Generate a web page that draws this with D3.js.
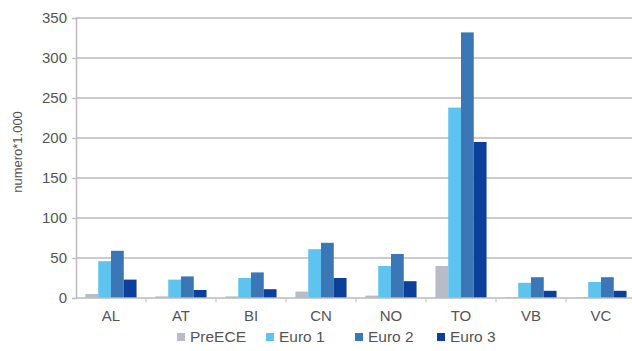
<!DOCTYPE html>
<html>
<head>
<meta charset="utf-8">
<script src="https://cdn.jsdelivr.net/npm/d3@7"></script>
<style>
  html, body { margin: 0; padding: 0; background: #fff; }
  svg { display: block; }
  text { font-family: "Liberation Sans", Arial, sans-serif; fill: #555; }
</style>
</head>
<body>
<svg id="chart" width="632" height="351"></svg>
<script>
// Vehicle counts (thousands) by province and emission standard
const provinces = ["AL", "AT", "BI", "CN", "NO", "TO", "VB", "VC"];
const seriesNames = ["PreECE", "Euro 1", "Euro 2", "Euro 3"];
const preECE = [5, 2, 2, 8, 3, 40, 1, 1];
const euro1  = [46, 23, 25, 61, 40, 238, 19, 20];
const euro2  = [59, 27, 32, 69, 55, 332, 26, 26];
const euro3  = [23, 10, 11, 25, 21, 195, 9, 9];
const yTicks = [0, 50, 100, 150, 200, 250, 300, 350];
const colors = ["#b8bcc6", "#5ec3ef", "#3b77b7", "#0c3f9a"];

const seriesValues = [preECE, euro1, euro2, euro3];
const rows = provinces.map((p, i) => ({
  province: p,
  values: seriesNames.map((s, k) => ({ series: s, value: seriesValues[k][i] }))
}));

const svg = d3.select("#chart");
const margin = { left: 76, right: -4, top: 18, bottom: 53 };
const width = 632, height = 351;
const plotBottom = height - margin.bottom;

const x0 = d3.scaleBand()
  .domain(provinces)
  .range([margin.left, width - margin.right])
  .paddingInner(0).paddingOuter(0);

const x1 = d3.scaleBand()
  .domain(seriesNames)
  .range([x0.bandwidth() * 0.135, x0.bandwidth() * 0.865])
  .padding(0);

const y = d3.scaleLinear()
  .domain([0, 350])
  .range([plotBottom, margin.top]);

// Horizontal grid lines
svg.append("g")
  .selectAll("line")
  .data(yTicks.filter(t => t > 0))
  .join("line")
  .attr("x1", margin.left)
  .attr("x2", width)
  .attr("y1", d => y(d))
  .attr("y2", d => y(d))
  .attr("stroke", "#cccccc")
  .attr("stroke-width", 2);

// Bars
const groups = svg.append("g")
  .selectAll("g")
  .data(rows)
  .join("g")
  .attr("transform", d => `translate(${x0(d.province)},0)`);

groups.selectAll("rect")
  .data(d => d.values)
  .join("rect")
  .attr("x", d => x1(d.series))
  .attr("width", x1.bandwidth())
  .attr("y", d => y(d.value))
  .attr("height", d => plotBottom - y(d.value))
  .attr("fill", (d, i) => colors[i]);

// Y axis
const yAxis = svg.append("g")
  .attr("transform", `translate(${margin.left},0)`)
  .call(d3.axisLeft(y).tickValues(yTicks).tickSize(4).tickPadding(5));
yAxis.select(".domain").attr("stroke", "#bbbbbb").attr("stroke-width", 1.5);
yAxis.selectAll(".tick line").attr("stroke", "#bbbbbb");
yAxis.selectAll(".tick text")
  .attr("font-size", 15)
  .style("font-family", "'Liberation Sans', Arial, sans-serif")
  .attr("fill", "#555");

// X axis: ticks at category boundaries
const xAxisG = svg.append("g").attr("transform", `translate(0,${plotBottom})`);
xAxisG.append("line")
  .attr("x1", margin.left).attr("x2", width)
  .attr("y1", 0).attr("y2", 0)
  .attr("stroke", "#bbbbbb").attr("stroke-width", 1.5);
xAxisG.selectAll("line.tick")
  .data(provinces.slice(1))
  .join("line")
  .attr("class", "tick")
  .attr("x1", d => x0(d)).attr("x2", d => x0(d))
  .attr("y1", 0).attr("y2", 4)
  .attr("stroke", "#bbbbbb");
xAxisG.selectAll("text")
  .data(provinces)
  .join("text")
  .attr("x", d => x0(d) + x0.bandwidth() / 2)
  .attr("y", 23)
  .attr("text-anchor", "middle")
  .attr("font-size", 15)
  .text(d => d);

// Y axis title
svg.append("text")
  .attr("transform", `translate(22,152) rotate(-90)`)
  .attr("text-anchor", "middle")
  .attr("font-size", 13)
  .text("numero*1.000");

// Legend
const legendX = [177, 266, 355, 437];
const legend = svg.append("g")
  .selectAll("g")
  .data(seriesNames)
  .join("g")
  .attr("transform", (d, i) => `translate(${legendX[i]},337)`);
legend.append("rect")
  .attr("x", 0).attr("y", -4)
  .attr("width", 8).attr("height", 8)
  .attr("fill", (d, i) => colors[i]);
legend.append("text")
  .attr("x", 13).attr("y", 5)
  .attr("font-size", 15.5)
  .text(d => d);
</script>
</body>
</html>
